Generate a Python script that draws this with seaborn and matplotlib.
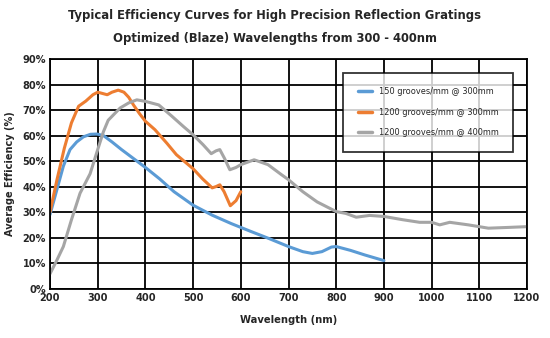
import matplotlib
matplotlib.use("Agg")
import matplotlib.pyplot as plt
import seaborn as sns
import pandas as pd
from matplotlib.ticker import PercentFormatter

# ---- data ----
blue_x = [200, 214, 228, 242, 256, 270, 285, 298, 312, 330, 350, 375, 400, 430, 460, 500, 540, 580, 620, 661, 700, 730, 750, 770, 790, 800, 830, 860, 900]
blue_y = [29, 38.5, 48, 54.5, 57.5, 59.5, 60.5, 60.6, 60, 57.5, 54.5, 51, 47.5, 43, 38, 32.7, 28.8, 25.5, 22.5, 19.5, 16.5, 14.5, 13.8, 14.5, 16.3, 16.5, 15, 13.2, 11]

orange_x = [200, 215, 230, 245, 260, 275, 290, 300, 310, 320, 330, 343, 355, 365, 375, 388, 400, 420, 445, 465, 500, 520, 540, 548, 556, 565, 578, 590, 600]
orange_y = [30, 43, 55, 65, 71.5, 73.5, 76, 77, 76.5, 76, 77, 77.8, 77, 75, 72, 68.5, 65.6, 62.3, 57, 52.5, 47, 43, 39.5, 40, 40.7, 38, 32.5, 34.5, 38]

gray_x = [200, 214, 228, 245, 263, 284, 300, 312, 322, 347, 365, 382, 400, 428, 456, 480, 500, 521, 538, 548, 556, 566, 577, 590, 600, 628, 657, 685, 700, 730, 760, 800, 820, 842, 870, 900, 940, 975, 1000, 1017, 1038, 1077, 1119, 1161, 1200]
gray_y = [5.8, 11, 16.5, 27, 37.4, 45, 54.5, 61.5, 66, 70.8, 72.8, 74, 73.4, 72, 67.5, 63.5, 60.3, 56.4, 52.9, 54, 54.5, 51, 46.6, 47.5, 48.6, 50.5, 48.6, 44.7, 42.7, 38, 34, 30.2, 29.5, 28, 28.7, 28.3, 27, 26, 26, 25, 26, 25, 23.7, 24, 24.3]

series_names = ["150 grooves/mm @ 300mm", "1200 grooves/mm @ 300mm", "1200 grooves/mm @ 400mm"]
colors = ["#5b9bd5", "#ed7d31", "#a5a5a5"]
x_ticks = [200, 300, 400, 500, 600, 700, 800, 900, 1000, 1100, 1200]
y_ticks = [0, 10, 20, 30, 40, 50, 60, 70, 80, 90]

df = pd.concat([
    pd.DataFrame({"x": blue_x, "y": blue_y, "series": series_names[0]}),
    pd.DataFrame({"x": orange_x, "y": orange_y, "series": series_names[1]}),
    pd.DataFrame({"x": gray_x, "y": gray_y, "series": series_names[2]}),
], ignore_index=True)

sns.set_style("white")
plt.rcParams["font.family"] = ["DejaVu Sans"]
plt.rcParams["font.stretch"] = "condensed"

fig = plt.figure(figsize=(5.5, 3.38), dpi=100)
ax = fig.add_axes([0.0909, 0.146, 0.8673, 0.6794])

sns.lineplot(data=df, x="x", y="y", hue="series", palette=colors, ax=ax,
             linewidth=2.2, sort=False, estimator=None)

ax.set_xlim(200, 1200)
ax.set_ylim(0, 90)
ax.set_xticks(x_ticks)
ax.set_yticks(y_ticks)
ax.yaxis.set_major_formatter(PercentFormatter(decimals=0))
ax.grid(True, color="black", linewidth=1.3)
ax.set_axisbelow(True)
for s in ax.spines.values():
    s.set_color("black")
    s.set_linewidth(1.3)
ax.tick_params(axis="both", length=0, pad=3, labelsize=7.8)
for lab in ax.get_xticklabels() + ax.get_yticklabels():
    lab.set_fontweight("bold")

ax.set_xlabel("Wavelength (nm)", fontsize=8, fontweight="bold", labelpad=9)
ax.set_ylabel("Average Efficiency (%)", fontsize=7.8, fontweight="bold", labelpad=5)

leg = ax.legend(loc="upper right", bbox_to_anchor=(0.971, 0.940), frameon=True,
                fancybox=False, edgecolor="black", fontsize=6.6, handlelength=1.6,
                borderpad=1.6, labelspacing=1.25, handletextpad=0.7, borderaxespad=0)
leg.get_frame().set_linewidth(1.3)
for line in leg.get_lines():
    line.set_linewidth(2.5)

fig.text(0.5, 0.955, "Typical Efficiency Curves for High Precision Reflection Gratings",
         ha="center", va="center", fontsize=9.3, fontweight="bold")
fig.text(0.5, 0.887, "Optimized (Blaze) Wavelengths from 300 - 400nm",
         ha="center", va="center", fontsize=9.3, fontweight="bold")

fig.savefig("out.png", dpi=100)
